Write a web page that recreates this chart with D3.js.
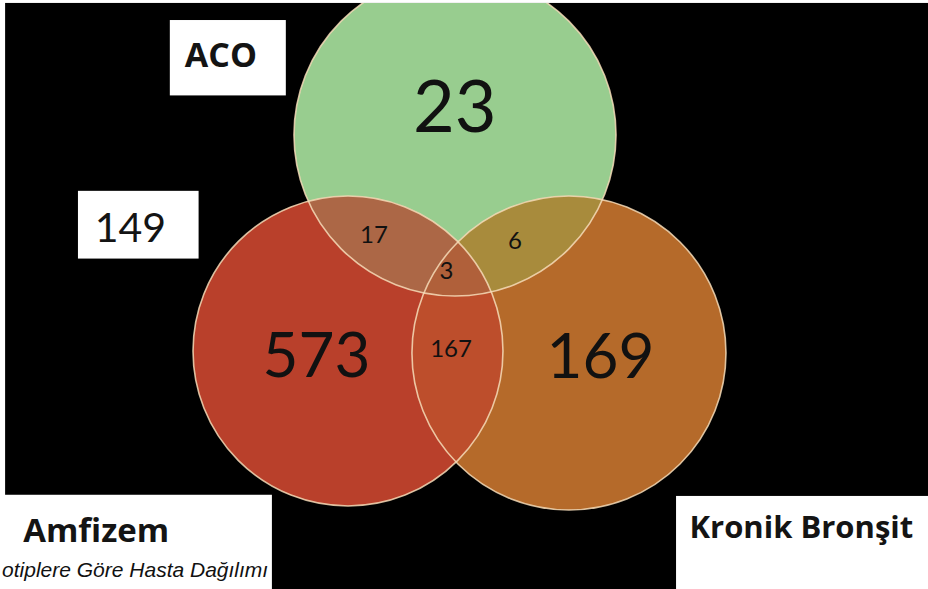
<!DOCTYPE html>
<html>
<head>
<meta charset="utf-8">
<script src="https://cdn.jsdelivr.net/npm/d3@7"></script>
<style>
  html, body { margin: 0; padding: 0; background: #ffffff; }
  svg { display: block; }
</style>
</head>
<body>
<svg id="chart" width="928" height="589"></svg>
<script>
// Patient counts per phenotype region of the three-set Venn diagram
const sets = ["ACO", "Amfizem", "Kronik Bronşit"];
const regionKeys = [
  "ACO",
  "Amfizem",
  "Kronik Bronşit",
  "ACO&Amfizem",
  "ACO&Kronik Bronşit",
  "Amfizem&Kronik Bronşit",
  "ACO&Amfizem&Kronik Bronşit"
];
const regionValues = [23, 573, 169, 17, 6, 167, 3];
const outsideValue = 149;
const captionText = "otiplere Göre Hasta Dağılımı";

const W = 928, H = 589;
const svg = d3.select("#chart");

// Frame coordinates in percent of the drawing area
const x = d3.scaleLinear().domain([0, 100]).range([0, W]);
const y = d3.scaleLinear().domain([0, 100]).range([0, H]);

// Circle geometry (percent units; radius measured along x)
const circleLayout = {
  "ACO":            { cx: 49.03, cy: 22.92, r: 17.35 },
  "Amfizem":        { cx: 37.50, cy: 59.59, r: 16.70 },
  "Kronik Bronşit": { cx: 61.31, cy: 59.93, r: 16.92 }
};

// Fill for each region
const regionColor = d3.scaleOrdinal()
  .domain(regionKeys)
  .range(["#98cd8f", "#b9402b", "#b56a2a", "#ac6746", "#a88b3c", "#bd4e2c", "#b0603a"]);

// Label placement and size per region (percent units, font px)
const labelLayout = {
  "ACO":                        { x: 49.0, y: 22.4, size: 72 },
  "Amfizem":                    { x: 34.1, y: 64.0, size: 62 },
  "Kronik Bronşit":             { x: 64.7, y: 64.2, size: 62 },
  "ACO&Amfizem":                { x: 40.3, y: 41.3, size: 24 },
  "ACO&Kronik Bronşit":         { x: 55.5, y: 42.3, size: 24 },
  "Amfizem&Kronik Bronşit":     { x: 48.6, y: 60.6, size: 24 },
  "ACO&Amfizem&Kronik Bronşit": { x: 48.1, y: 47.4, size: 24 }
};

// Background panel
const panel = { x0: 0.55, y0: 0.5 };
svg.append("rect")
  .attr("x", x(panel.x0)).attr("y", y(panel.y0))
  .attr("width", x(100) - x(panel.x0)).attr("height", y(100) - y(panel.y0))
  .attr("fill", "#000");

const defs = svg.append("defs");
defs.append("clipPath").attr("id", "panelClip")
  .append("rect")
  .attr("x", x(panel.x0)).attr("y", y(panel.y0))
  .attr("width", x(100) - x(panel.x0)).attr("height", y(100) - y(panel.y0));
sets.forEach((s, i) => {
  const c = circleLayout[s];
  defs.append("clipPath").attr("id", "clip" + i)
    .append("circle")
    .attr("cx", x(c.cx)).attr("cy", y(c.cy)).attr("r", x(c.r) - x(0));
});

const circleNode = (sel, s) => {
  const c = circleLayout[s];
  return sel.append("circle")
    .attr("cx", x(c.cx)).attr("cy", y(c.cy)).attr("r", x(c.r) - x(0));
};

// Regions: a set's circle, clipped by every other set in the key
const venn = svg.append("g").attr("clip-path", "url(#panelClip)");
regionKeys.forEach(key => {
  const members = key.split("&");
  let g = venn.append("g");
  members.slice(1).forEach(m => {
    g = g.append("g").attr("clip-path", `url(#clip${sets.indexOf(m)})`);
  });
  circleNode(g, members[0]).attr("fill", regionColor(key));
});

// Circle outlines
sets.forEach(s => {
  circleNode(venn, s)
    .attr("fill", "none")
    .attr("stroke", "#f6dcb8")
    .attr("stroke-opacity", 0.85)
    .attr("stroke-width", 1.6);
});

// Region counts
const numberFont = "Lato, 'Open Sans', sans-serif";
const nameFont = "'Open Sans', Lato, sans-serif";
venn.selectAll("text.count")
  .data(regionKeys.map((k, i) => ({ key: k, value: regionValues[i] })))
  .join("text")
  .attr("class", "count")
  .attr("x", d => x(labelLayout[d.key].x))
  .attr("y", d => y(labelLayout[d.key].y))
  .attr("text-anchor", "middle")
  .attr("font-family", numberFont)
  .attr("font-size", d => labelLayout[d.key].size)
  .attr("fill", "#111")
  .text(d => d.value);

// Set name boxes and the outside count
const boxes = [
  { text: sets[0], bx: 18.3, by: 3.4, bw: 12.5, bh: 12.8, tx: 23.8, ty: 11.4, size: 34, weight: 700, anchor: "middle", font: nameFont },
  { text: outsideValue, bx: 8.4, by: 32.4, bw: 13.0, bh: 11.5, tx: 10.2, ty: 41.1, size: 41, weight: 400, anchor: "start", font: numberFont },
  { text: sets[1], bx: 0, by: 84.0, bw: 29.3, bh: 16.0, tx: 2.5, ty: 92.0, size: 33, weight: 700, anchor: "start", font: nameFont },
  { text: sets[2], bx: 72.85, by: 84.2, bw: 27.15, bh: 15.8, tx: 74.3, ty: 91.3, size: 31, weight: 700, anchor: "start", font: nameFont }
];
const boxG = svg.append("g");
boxes.forEach(b => {
  boxG.append("rect")
    .attr("x", x(b.bx)).attr("y", y(b.by))
    .attr("width", x(b.bw) - x(0)).attr("height", y(b.bh) - y(0))
    .attr("fill", "#fff");
  boxG.append("text")
    .attr("x", x(b.tx)).attr("y", y(b.ty))
    .attr("text-anchor", b.anchor)
    .attr("font-family", b.font)
    .attr("font-weight", b.weight)
    .attr("font-size", b.size)
    .attr("fill", "#141414")
    .text(b.text);
});

// Caption
svg.append("text")
  .attr("x", x(28.9)).attr("y", y(97.9))
  .attr("text-anchor", "end")
  .attr("font-family", "'Liberation Sans', Arial, sans-serif")
  .attr("font-style", "italic")
  .attr("font-size", 21)
  .attr("fill", "#111")
  .text(captionText);
</script>
</body>
</html>
